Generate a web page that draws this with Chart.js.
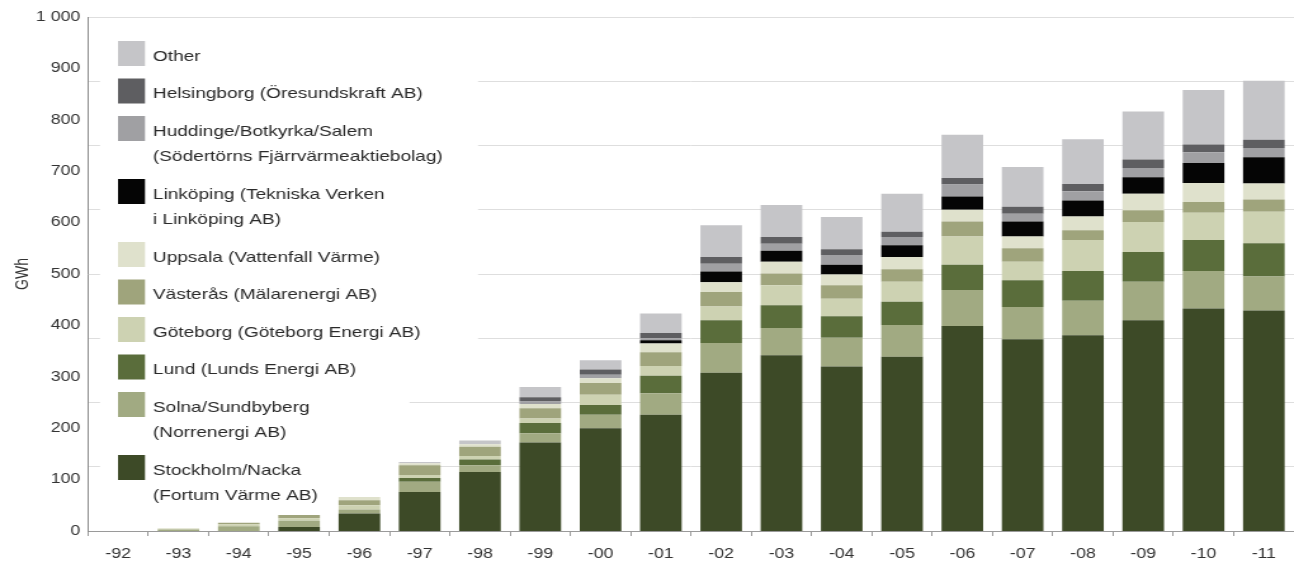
<!DOCTYPE html>
<html>
<head>
<meta charset="utf-8">
<script src="https://cdn.jsdelivr.net/npm/chart.js@4.4.1/dist/chart.umd.min.js"></script>
<style>
  html, body { margin: 0; padding: 0; background: #fff; overflow: hidden; }
  #wrap { position: absolute; left: 0; top: 0; width: 1020px; height: 564px;
          transform: scaleX(1.2686); transform-origin: 0 0; }
</style>
</head>
<body>
<div id="wrap"><canvas id="c"></canvas></div>
<script>
// ---- data ----
const years = ['-92','-93','-94','-95','-96','-97','-98','-99','-00','-01','-02','-03','-04','-05','-06','-07','-08','-09','-10','-11'];
const yTickLabels = ['0','100','200','300','400','500','600','700','800','900','1 000'];

const stockholm   = [0,0,0,8,34,76,115,172,200,226,308,342,320,339,399,373,381,410,433,429];
const solna       = [0,3,9,12,8,20,13,18,26,42,58,53,56,62,70,63,67,75,73,66];
const lund        = [0,0,0,0,0,7,11,20,19,34,44,44,42,45,49,52,58,58,60,65];
const goteborg    = [0,2,4,5,8,6,7,9,20,19,27,39,34,39,55,36,60,58,53,61];
const vasteras    = [0,0,3,6,10,19,18,20,23,27,28,23,26,24,29,26,19,23,21,24];
const uppsala     = [0,0,0,0,6,4,5,8,9,17,19,23,21,24,23,23,27,32,37,31];
const linkoping   = [0,0,0,0,0,0,0,0,0,6,21,21,19,23,26,29,31,32,39,51];
const huddinge    = [0,0,0,0,0,0,0,5,7,4,15,14,19,16,23,15,18,18,21,18];
const helsingborg = [0,0,0,0,0,0,0,8,10,10,13,13,11,10,13,14,14,17,15,16];
const other       = [0,0,0,0,0,2,7,20,18,38,62,62,63,74,84,77,87,93,106,115];

const seriesNames = [
  'Stockholm/Nacka\n(Fortum Värme AB)',
  'Solna/Sundbyberg\n(Norrenergi AB)',
  'Lund (Lunds Energi AB)',
  'Göteborg (Göteborg Energi AB)',
  'Västerås (Mälarenergi AB)',
  'Uppsala (Vattenfall Värme)',
  'Linköping (Tekniska Verken\ni Linköping AB)',
  'Huddinge/Botkyrka/Salem\n(Södertörns Fjärrvärmeaktiebolag)',
  'Helsingborg (Öresundskraft AB)',
  'Other'
];
const seriesValues = [stockholm, solna, lund, goteborg, vasteras, uppsala, linkoping, huddinge, helsingborg, other];
const seriesColors = ['#3d4a27','#a1aa82','#5a6d3b','#cdd2b2','#9fa47c','#dfe1cc','#050505','#a0a0a3','#5e5e61','#c5c5c8'];

// ---- chart ----
Chart.defaults.font.family = "'Liberation Sans', Arial, sans-serif";
Chart.defaults.color = '#333';

const datasets = seriesValues.map((vals, i) => ({
  label: seriesNames[i].replace('\n', ' '),
  data: vals,
  backgroundColor: seriesColors[i],
  borderWidth: 0,
  barPercentage: 0.69,
  categoryPercentage: 1.0
}));

const sideLegend = {
  id: 'sideLegend',
  beforeDatasetsDraw(chart) {
    const ctx = chart.ctx;
    ctx.save();
    ctx.fillStyle = '#ffffff';
    ctx.fillRect(78.8, 25, 298, 357);
    ctx.fillRect(78.8, 382, 244, 108);
    ctx.font = "15px 'Liberation Sans', Arial, sans-serif";
    ctx.textBaseline = 'middle';
    ctx.textAlign = 'left';
    let extra = 0;
    const n = chart.data.datasets.length;
    for (let i = 0; i < n; i++) {
      const idx = n - 1 - i;
      const ds = chart.data.datasets[idx];
      const lines = seriesNames[idx].split('\n');
      const top = 41 + 37.5 * i + 25.5 * extra;
      ctx.fillStyle = ds.backgroundColor;
      ctx.fillRect(93, top, 21.3, 25);
      ctx.fillStyle = '#2a2a2a';
      lines.forEach((ln, k) => ctx.fillText(ln, 120.6, top + 15.5 + k * 25.5));
      extra += lines.length - 1;
    }
    ctx.restore();
  }
};

new Chart(document.getElementById('c'), {
  type: 'bar',
  data: { labels: years, datasets },
  plugins: [sideLegend],
  options: {
    responsive: true,
    maintainAspectRatio: false,
    animation: false,
    layout: { padding: { top: 17, left: 0, right: 0, bottom: 0 } },
    plugins: { legend: { display: false }, tooltip: { enabled: false } },
    scales: {
      x: {
        stacked: true,
        grid: { drawOnChartArea: false, drawTicks: true, tickLength: 5, color: '#9a9a9a', offset: true },
        border: { display: true, color: '#9a9a9a', width: 1 },
        ticks: { font: { size: 14 }, color: '#333', padding: 10, maxRotation: 0, autoSkip: false },
        afterFit(s) { s.height = 33; }
      },
      y: {
        stacked: true,
        min: 0, max: 1000,
        grid: { display: false, drawTicks: false },
        border: { display: true, color: '#8a8a8a', width: 1 },
        ticks: {
          stepSize: 100, padding: 6, font: { size: 14 }, color: '#333',
          callback: (v) => yTickLabels[Math.round(v / 100)]
        },
        title: { display: true, text: 'GWh', font: { size: 14 }, color: '#333', padding: { top: 10, bottom: 0 } },
        afterFit(s) { s.width = 69.4; }
      },
      y2: {
        position: 'right',
        min: 0, max: 1000,
        ticks: { display: false, stepSize: 125 },
        grid: { color: '#dedede', drawTicks: false, lineWidth: 1 },
        border: { display: false },
        afterFit(s) { s.width = 0; }
      }
    }
  }
});
</script>
</body>
</html>
